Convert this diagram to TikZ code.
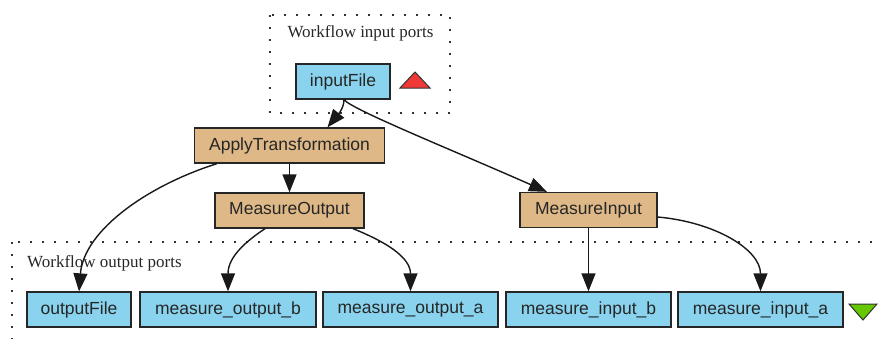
\documentclass[tikz,border=0pt]{standalone}
\usepackage{fontspec}
\setmainfont{Liberation Serif}
\setsansfont{Liberation Sans}
\usetikzlibrary{arrows.meta}
\definecolor{portblue}{RGB}{137,211,238}
\definecolor{proctan}{RGB}{222,184,135}
\definecolor{inred}{RGB}{240,56,56}
\definecolor{outgreen}{RGB}{102,200,0}
\begin{document}
\begin{tikzpicture}[x=1pt,y=-1pt,
  box/.style={draw=black!85, line width=1.3pt, minimum height=35pt, inner sep=0pt,
    font=\sffamily\fontsize{17.5}{20}\selectfont, text=black!85},
  port/.style={box, fill=portblue},
  proc/.style={box, fill=proctan},
  flow/.style={-{Triangle[length=18pt,width=14pt]}, line width=1.4pt, black!90},
  cluster/.style={line width=2pt, dash pattern=on 2pt off 10pt, black!80},
  clabel/.style={font=\rmfamily\fontsize{17}{20}\selectfont, text=black!85, inner sep=0pt}]

\clip (0,0) rectangle (880,338);

% port groups
\draw[cluster] (270,15) rectangle (450,113);
\draw[cluster] (12,242) rectangle (900,360);
\node[clabel] (inLabel) at (360.5,33) {Workflow input ports};
\node[clabel, anchor=west] (outLabel) at (27,263) {Workflow output ports};

% input port
\node[port, minimum width=94pt] (inputFile) at (343,81.5) {inputFile};
\filldraw[fill=inred, draw=black!80, line width=1pt] (400,88) -- (430,88) -- (415,72) -- cycle;

% processors
\node[proc, minimum width=190pt] (ApplyTransformation) at (289.5,145.5) {ApplyTransformation};
\node[proc, minimum width=149pt] (MeasureOutput) at (289.5,210.5) {MeasureOutput};
\node[proc, minimum width=137pt] (MeasureInput) at (588.5,210) {MeasureInput};

% output ports
\node[port, minimum width=104pt] (outputFile) at (79,309.5) {outputFile};
\node[port, minimum width=176pt] (measureOutputB) at (228,309.5) {measure\_output\_b};
\node[port, minimum width=175pt] (measureOutputA) at (410.5,309.5) {measure\_output\_a};
\node[port, minimum width=165pt] (measureInputB) at (588.5,309.5) {measure\_input\_b};
\node[port, minimum width=165pt] (measureInputA) at (760.5,309.5) {measure\_input\_a};
\filldraw[fill=outgreen, draw=black!80, line width=1pt] (849,304) -- (877,304) -- (863,320) -- cycle;

% data links
\draw[flow] ([xshift=1pt]inputFile.south) .. controls +(0,10) and +(8,-10) .. ([xshift=38pt]ApplyTransformation.north);
\draw[flow] ([xshift=1pt]inputFile.south) .. controls +(8,10) and +(-95,-42) .. ([xshift=-41.5pt]MeasureInput.north);
\draw[flow] (ApplyTransformation.south) -- (MeasureOutput.north);
\draw[flow] ([xshift=-72.5pt]ApplyTransformation.south) .. controls +(-67,21) and +(5,-62) .. (outputFile.north);
\draw[flow] ([xshift=-24.5pt]MeasureOutput.south) .. controls +(-18,12) and +(0,-35) .. (measureOutputB.north);
\draw[flow] ([xshift=63.5pt]MeasureOutput.south) .. controls +(30,12) and +(0,-35) .. (measureOutputA.north);
\draw[flow] (MeasureInput.south) -- (measureInputB.north);
\draw[flow] ([yshift=-7pt]MeasureInput.east) .. controls +(57,5) and +(0,-42) .. (measureInputA.north);
\end{tikzpicture}
\end{document}
